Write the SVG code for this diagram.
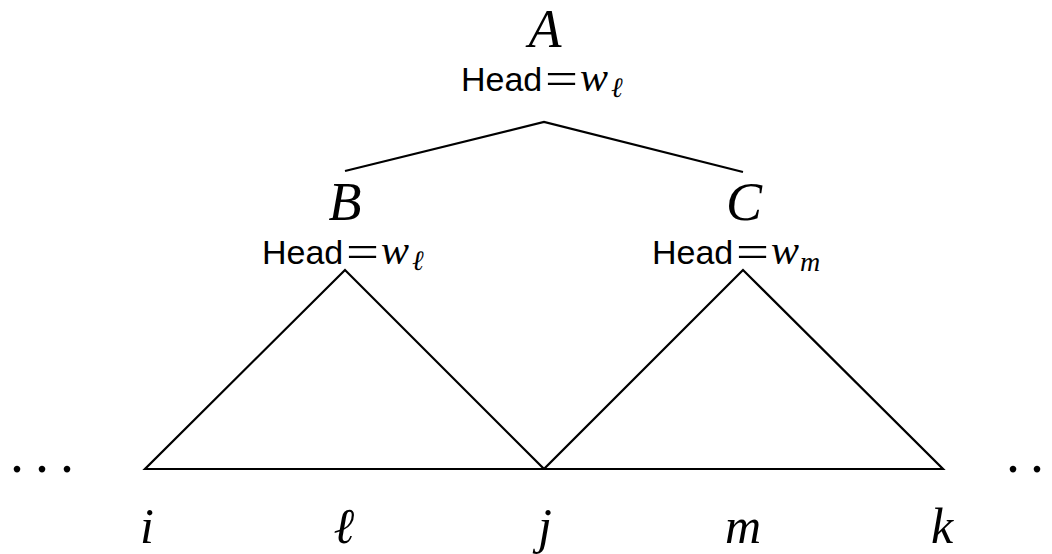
<svg xmlns="http://www.w3.org/2000/svg" width="1052" height="554" viewBox="0 0 1052 554">
<style>
.ln{stroke:#000;stroke-width:2.2;fill:none;stroke-linejoin:miter;stroke-linecap:butt}
.var{font-family:"Liberation Serif",serif;font-style:italic;font-size:54px;fill:#000}
.idx{font-family:"Liberation Serif",serif;font-style:italic;font-size:50px;fill:#000}
.hd{font-family:"Liberation Sans",sans-serif;font-size:34px;fill:#000}
.eq{font-family:"Liberation Serif",serif;font-size:46px;fill:#000}
.w{font-family:"Liberation Serif",serif;font-style:italic;font-size:42px;fill:#000}
.sub{font-family:"Liberation Serif",serif;font-style:italic;font-size:28px;fill:#000}
.dots{font-family:"Liberation Serif",serif;font-size:56px;fill:#000}
</style>
<rect width="1052" height="554" fill="#fff"/>
<g id="connectors">
<polyline class="ln" points="345,171 544,122 743,172"/>
</g>
<g id="subtrees">
<polygon class="ln" points="345,270 145,469 544,469"/>
<polygon class="ln" points="743,270 544,469 943,469"/>
</g>
<g id="node-A">
<text class="var" x="545" y="47" text-anchor="middle">A</text>
<text class="hd" x="461" y="91">Head</text>
<text class="eq" x="545" y="94" textLength="33" lengthAdjust="spacingAndGlyphs">=</text>
<text class="w" x="580" y="91">w</text>
<text class="sub" x="611" y="97">ℓ</text>
</g>
<g id="node-B">
<text class="var" x="345" y="220" text-anchor="middle">B</text>
<text class="hd" x="262" y="264">Head</text>
<text class="eq" x="346" y="267" textLength="33" lengthAdjust="spacingAndGlyphs">=</text>
<text class="w" x="381" y="264">w</text>
<text class="sub" x="412" y="270">ℓ</text>
</g>
<g id="node-C">
<text class="var" x="744" y="220" text-anchor="middle">C</text>
<text class="hd" x="652" y="264">Head</text>
<text class="eq" x="736" y="267" textLength="33" lengthAdjust="spacingAndGlyphs">=</text>
<text class="w" x="771" y="264">w</text>
<text class="sub" x="800" y="271">m</text>
</g>
<g id="positions">
<text class="idx" x="147" y="543" text-anchor="middle">i</text>
<text class="idx" x="344" y="543" text-anchor="middle">ℓ</text>
<text class="idx" x="545" y="543" text-anchor="middle">j</text>
<text class="idx" x="743" y="543" text-anchor="middle">m</text>
<text class="idx" x="942" y="543" text-anchor="middle">k</text>
</g>
<g id="ellipses">
<text class="dots" x="17 42 67" y="472" text-anchor="middle">...</text>
<text class="dots" x="1013 1037" y="472" text-anchor="middle">..</text>
</g>
</svg>
